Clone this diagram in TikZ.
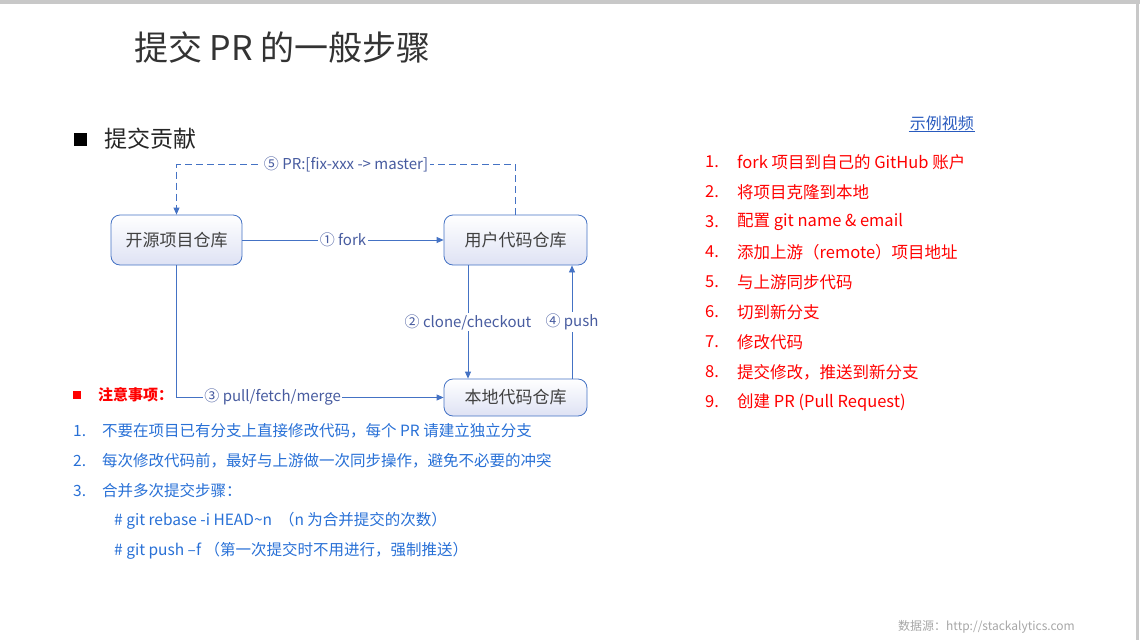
\documentclass[tikz,border=0pt]{standalone}
\usepackage{fontspec}
\setmainfont{Noto Sans CJK SC}
\usepackage{xcolor}
\definecolor{prblue}{RGB}{68,114,196}
\definecolor{prtext}{RGB}{72,92,160}
\definecolor{prnote}{RGB}{40,112,214}
\definecolor{prred}{RGB}{255,0,0}
\definecolor{prlink}{RGB}{40,90,190}
\definecolor{prgray}{RGB}{200,200,200}
\definecolor{prbox}{RGB}{222,226,244}
\usetikzlibrary{arrows.meta,positioning}
\newcommand\prfont[1]{\fontsize{#1}{#1}\selectfont}

\begin{document}
\begin{tikzpicture}[x=1pt,y=-1pt,
  repo/.style={draw=prblue,thick,rounded corners=9pt,top color=white,bottom color=prbox,minimum height=50pt,font=\prfont{17},text=black!75},
  arr/.style={-{Triangle[length=7pt,width=6pt]},prblue,thick},
  lbl/.style={fill=white,inner sep=1.5pt,font=\prfont{15},text=prtext},
  item/.style={anchor=west,inner sep=0pt}]
  \useasboundingbox (0,0) rectangle (1140,640);
  % Frame
  \fill[prgray] (0,0) rectangle (1140,4);
  \fill[prgray] (1136,0) rectangle (1139,640);
  % Title
  \node[item,font=\prfont{34},text=black!80] (title) at (134,47) {提交 PR 的一般步骤};
  \node[fill=black,minimum size=13pt,inner sep=0pt] (secsq) at (80,139) {};
  \node[item,font=\prfont{23},text=black!85] (sec) at (104,139) {提交贡献};
  % Repositories
  \node[repo,minimum width=131pt] (upstream) at (176.5,240) {开源项目仓库};
  \node[repo,minimum width=143pt] (origin) at (515.5,240) {用户代码仓库};
  \node[repo,minimum width=143pt,minimum height=37pt] (local) at (515.5,397.5) {本地代码仓库};
  % Flows
  \draw[arr] (upstream) -- node[lbl]{① fork} (origin);
  \draw[arr,dash pattern=on 7pt off 4pt] (origin.north) -- ++(0,-50) -| node[lbl,pos=0.25]{⑤ PR:[fix-xxx -> master]} (upstream.north);
  \draw[arr] ([xshift=-47.5pt]origin.south) -- node[lbl]{② clone/checkout} ([xshift=-47.5pt]local.north);
  \draw[arr] ([xshift=56.5pt]local.north) -- node[lbl]{④ push} ([xshift=56.5pt]origin.south);
  \draw[arr] (upstream.south) |- node[lbl,pos=0.68]{③ pull/fetch/merge} (local.west);
  % Video link
  \node[anchor=east,inner sep=1pt,font=\prfont{16},text=prlink] (video) at (975,123) {示例视频};
  \draw[prlink] (video.south west) -- (video.south east);
  % Steps
  \foreach \t [count=\i] in {{fork 项目到自己的 GitHub 账户},{将项目克隆到本地},{配置 git name \& email},{添加上游（remote）项目地址},{与上游同步代码},{切到新分支},{修改代码},{提交修改，推送到新分支},{创建 PR (Pull Request)}}
  {
    \node[item,font=\prfont{16.5},text=prred] (stepnum\i) at (705,132+30*\i) {\i.};
    \node[item,font=\prfont{16.5},text=prred] (step\i) at (737,132+30*\i) {\t};
  }
  % Notes
  \node[fill=prred,minimum size=8pt,inner sep=0pt] (notesq) at (77,395) {};
  \node[item,font=\prfont{15}\bfseries,text=prred] (notes) at (98,395) {注意事项：};
  \foreach \t [count=\i] in {{不要在项目已有分支上直接修改代码，每个 PR 请建立独立分支},{每次修改代码前，最好与上游做一次同步操作，避免不必要的冲突},{合并多次提交步骤：}}
  {
    \node[item,font=\prfont{15.5},text=prnote] (notenum\i) at (73,401+30*\i) {\i.};
    \node[item,font=\prfont{15.5},text=prnote] (note\i) at (102,401+30*\i) {\t};
  }
  \node[item,font=\prfont{15.5},text=prnote] (cmd1) at (114,521) {\# git rebase -i HEAD\textasciitilde n\ \ （n 为合并提交的次数）};
  \node[item,font=\prfont{15.5},text=prnote] (cmd2) at (114,551) {\# git push –f （第一次提交时不用进行，强制推送）};
  % Source
  \node[item,font=\prfont{12},text=black!35] (src) at (898,627) {数据源：http://stackalytics.com};
\end{tikzpicture}
\end{document}
